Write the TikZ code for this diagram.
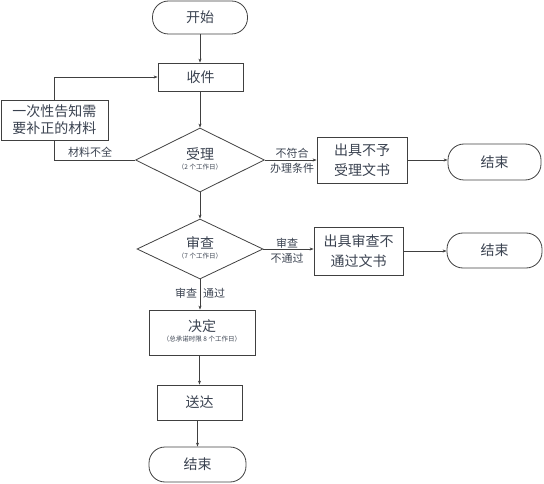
\documentclass[tikz,border=0pt]{standalone}
\usepackage{fontspec}
\setmainfont{Noto Sans CJK SC}
\usetikzlibrary{shapes.geometric,arrows.meta}
\definecolor{txt}{HTML}{3A4250}
\definecolor{ln}{HTML}{404040}
\begin{document}
\begin{tikzpicture}[x=1pt,y=-1pt,
  every node/.style={text=txt,inner sep=0pt},
  box/.style={draw=ln,line width=0.8pt,rectangle,align=center,font=\fontsize{14}{20}\selectfont},
  term/.style={draw=ln,line width=0.8pt,rectangle,rounded corners=16pt,align=center,font=\fontsize{14}{20}\selectfont},
  dec/.style={draw=ln,line width=0.8pt,diamond,align=center},
  arr/.style={draw=ln,line width=0.7pt,-{Stealth[length=4pt,width=3pt]}},
  lnk/.style={draw=ln,line width=0.7pt},
  lab/.style={font=\fontsize{11}{13}\selectfont},
  sub/.style={font=\fontsize{6.5}{7}\selectfont}]
\useasboundingbox (0,0) rectangle (544,484);
\node[term,minimum width=95pt,minimum height=33pt] (start) at (200,17.5) {开始};
\node[box,minimum width=85pt,minimum height=28pt] (recv) at (200.5,77) {收件};
\node[box,minimum width=107pt,minimum height=40pt,font=\fontsize{14}{17}\selectfont] (notify) at (54.5,120) {一次性告知需\\要补正的材料};
\node[dec,minimum width=129pt,minimum height=64pt] (accept) at (200,160) {};
\node at (200,154) {\fontsize{14}{16}\selectfont 受理};
\node[sub] at (200,167) {（2 个工作日）};
\node[box,minimum width=90pt,minimum height=46pt] (rej1) at (362,160) {出具不予\\受理文书};
\node[term,minimum width=93pt,minimum height=36pt] (end1) at (494.5,162) {结束};
\node[dec,minimum width=126pt,minimum height=60pt] (review) at (200,249) {};
\node at (200,243) {\fontsize{14}{16}\selectfont 审查};
\node[sub] at (200,256) {（7 个工作日）};
\node[box,minimum width=89pt,minimum height=48pt] (rej2) at (358.5,251) {出具审查不\\通过文书};
\node[term,minimum width=95pt,minimum height=35pt] (end2) at (494.5,250.5) {结束};
\node[box,minimum width=106pt,minimum height=45pt] (decide) at (202,332.5) {};
\node at (202,326) {\fontsize{14}{16}\selectfont 决定};
\node[sub] at (202,339) {（总承诺时限 8 个工作日）};
\node[box,minimum width=85pt,minimum height=35pt] (send) at (199.5,402.5) {送达};
\node[term,minimum width=97pt,minimum height=35pt] (end3) at (197.5,464.5) {结束};
% connectors
\draw[arr] (start.south) -- (start.south |- recv.north);
\draw[arr] (recv.south -| accept.north) -- (accept.north);
\draw[lnk] (accept.west) -| (notify.south);
\draw[arr] (notify.north) |- (recv.west);
\draw[arr] (accept.east) -- (accept.east -| rej1.west);
\draw[arr] (rej1.east) -- (rej1.east -| end1.west);
\draw[arr] (accept.south) -- (review.north);
\draw[arr] (review.east) -- (review.east -| rej2.west);
\draw[arr] (rej2.east) -- (rej2.east -| end2.west);
\draw[arr] (review.south) -- (review.south |- decide.north);
\draw[arr] (decide.south -| send.north) -- (send.north);
\draw[arr] (send.south -| end3.north) -- (end3.north);
% labels
\node[lab] (l1) at (90,152) {材料不全};
\node[lab] (l2) at (292,153) {不符合};
\node[lab] (l3) at (292,168) {办理条件};
\node[lab] (l4) at (287,243) {审查};
\node[lab] (l5) at (287,258) {不通过};
\node[lab] (l6) at (186,293) {审查};
\node[lab] (l7) at (214,293) {通过};
\end{tikzpicture}
\end{document}
